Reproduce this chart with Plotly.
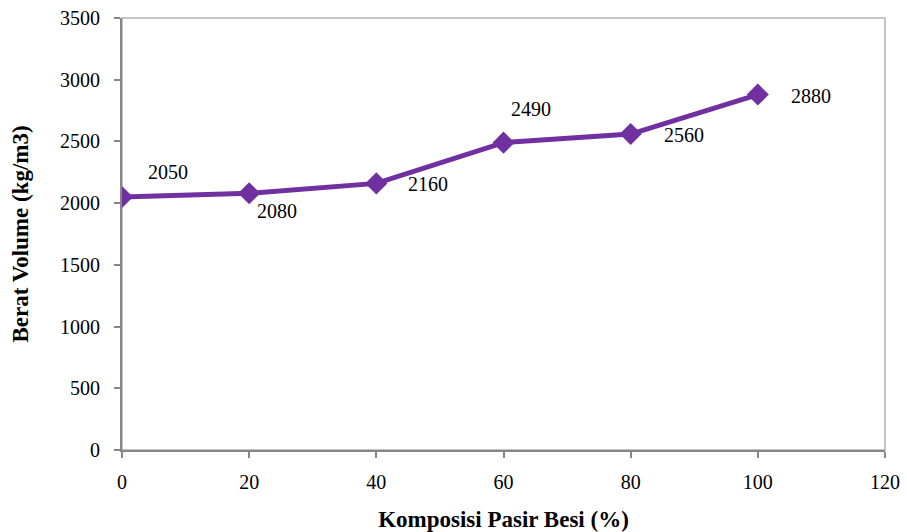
import plotly.graph_objects as go

komposisi = [0, 20, 40, 60, 80, 100]
berat_volume = [2050, 2080, 2160, 2490, 2560, 2880]
label_text = ["2050", "2080", "2160", "2490", "2560", "2880"]
x_ticks = [0, 20, 40, 60, 80, 100, 120]
y_ticks = [0, 500, 1000, 1500, 2000, 2500, 3000, 3500]

# pixel offsets of the data labels (styling)
label_shift = [(46, 25), (28, -18), (52, -1), (27, 34), (53, -1), (53, -1)]

FONT = "Liberation Serif"
purple = "#7030A0"

fig = go.Figure()
fig.add_trace(go.Scatter(
    x=komposisi, y=berat_volume, mode="lines+markers",
    line=dict(color=purple, width=5),
    marker=dict(symbol="diamond", size=17, color=purple),
    showlegend=False, hoverinfo="x+y",
))

for xv, yv, t, (dx, dy) in zip(komposisi, berat_volume, label_text, label_shift):
    fig.add_annotation(x=xv, y=yv, xref="x", yref="y", text=t, showarrow=False,
                       xshift=dx, yshift=dy,
                       font=dict(family=FONT, size=20, color="black"))

fig.update_layout(
    width=907, height=532,
    margin=dict(l=122, r=22, t=18, b=82),
    paper_bgcolor="white", plot_bgcolor="white",
    font=dict(family=FONT, size=20, color="black"),
    shapes=[dict(type="rect", xref="paper", yref="paper", x0=0, y0=0, x1=1, y1=1,
                 line=dict(color="#b3b3b3", width=1.5), layer="below")],
)
fig.update_xaxes(
    automargin=False,
    range=[0, 120], tickvals=x_ticks, ticktext=[str(v) for v in x_ticks],
    showgrid=False, zeroline=False, showline=True, linecolor="#868686", linewidth=2,
    ticks="outside", ticklen=6, tickcolor="#868686", tickwidth=2,
    tickfont=dict(family=FONT, size=20), ticklabelstandoff=7,
    title=dict(text="<b>Komposisi Pasir Besi (%)</b>", font=dict(family=FONT, size=23), standoff=19),
)
fig.update_yaxes(
    automargin=False,
    range=[0, 3500], tickvals=y_ticks, ticktext=[str(v) for v in y_ticks],
    showgrid=False, zeroline=False, showline=True, linecolor="#868686", linewidth=2,
    ticks="outside", ticklen=6, tickcolor="#868686", tickwidth=2,
    tickfont=dict(family=FONT, size=20), ticklabelstandoff=10,
    title=dict(text="<b>Berat Volume (kg/m3)</b>", font=dict(family=FONT, size=23), standoff=25),
)

fig.write_html("out.html")
